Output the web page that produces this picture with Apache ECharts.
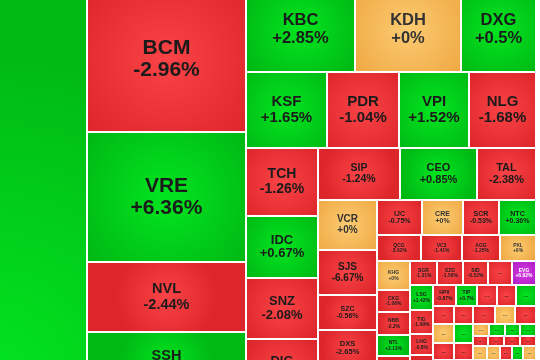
<!DOCTYPE html>
<html>
<head>
<meta charset="utf-8">
<script src="https://cdn.jsdelivr.net/npm/echarts@6/dist/echarts.min.js"></script>
<style>
html,body{margin:0;padding:0;background:#ffffff;}
#chart{width:540px;height:360px;}
</style>
</head>
<body>
<div id="chart"></div>
<script>
// ---- data (market-cap weights, % change from labels) ----
const tickers = ['VHM','BCM','VRE','NVL','SSH','KBC','KDH','DXG','KSF','PDR','VPI','NLG',
  'TCH','IDC','SNZ','DIG','SIP','CEO','TAL','VCR','SJS','SZC','DXS','IJC','CRE','SCR','NTC',
  'QCG','VC3','AGG','PXL','KHG','CKG','NBB','NTL','SGR','SZG','SID','EVG','LSG','TIG','LHG','HPX','TIP'];
const changes = [1.2,-2.96,6.36,-2.44,1.8,2.85,0,0.5,1.65,-1.04,1.52,-1.68,
  -1.26,0.67,-2.08,-1.1,-1.24,0.85,-2.38,0,-6.67,-0.56,-2.65,-0.75,0,-0.53,0.36,
  -3.62,-1.41,-1.25,0,0,-1.06,-2.2,2.11,-1.31,-1.56,-0.52,6.92,1.42,-1.09,-0.8,-0.87,0.7];
const caps = [142551,23055,20670,11130,10176,9265,9010,6375,6156,5472,5320,5092,
  4896,4464,4392,4176,4264,4004,3068,2950,2655,2065,2124,1575,1435,1260,1295,
  1144,1066,988,936,957,726,759,693,648,624,600,576,575,552,483,483,441];

// small unlabeled ("...") cells
const minorKeys  = ['hA','hB','hC','hD','hE','f1','g1','g2','g3','H1','H2','H3','H4','H5',
  'X1','X2','Y1','Y2','hF','r1a','r1b','r1c','r1d','r2a','r2b','r2c','r2d','r3a','r3b','r3c','r3d','r3e','hG'];
const minorMoves = ['up','down','down','down','down','down','down','down','up','down','down','down','ref','down',
  'ref','up','down','down','down','ref','up','up','up','down','down','down','down','ref','ref','down','up','ref','down'];
const minorCaps  = [2226,936,2596,1782,1265,576,420,399,420,378,342,396,360,378,
  399,361,357,323,2000,192,192,180,192,150,160,160,160,196,182,168,154,182,3150];

// grouping of the cells (nesting only)
const layoutTree = [
  'VHM',
  [
    [[['BCM', ['VRE', 'NVL']], 'SSH'], 'hA'],
    [
      ['KBC', 'KDH', 'DXG'],
      [
        ['KSF', 'PDR', 'VPI', 'NLG'],
        [
          [['TCH', ['IDC', ['SNZ', 'DIG']]], 'hB'],
          [
            ['SIP', 'CEO', 'TAL'],
            [
              ['VCR', ['SJS', ['SZC', ['DXS', 'hC']]]],
              [
                ['IJC', 'CRE', 'SCR', 'NTC'],
                [
                  ['QCG', 'VC3', 'AGG', 'PXL'],
                  [
                    ['KHG', ['CKG', ['NBB', ['NTL', 'hD']]]],
                    [
                      ['SGR', 'SZG', 'SID', 'f1', 'EVG'],
                      [
                        ['LSG', ['TIG', ['LHG', 'hE']]],
                        [
                          ['HPX', 'TIP', 'g1', 'g2', 'g3'],
                          [
                            ['H1', 'H2', 'H3', 'H4', 'H5'],
                            [
                              [['X1', 'X2'], [['Y1', 'Y2'], 'hF']],
                              [['r1a','r1b','r1c','r1d'], [['r2a','r2b','r2c','r2d'], [['r3a','r3b','r3c','r3d','r3e'], 'hG']]]
                            ]
                          ]
                        ]
                      ]
                    ]
                  ]
                ]
              ]
            ]
          ]
        ]
      ]
    ]
  ]
];

// ---- styles ----
const labelSize = {VHM:28,BCM:21,VRE:21,NVL:14.5,SSH:14.5,KBC:16.5,KDH:16.5,DXG:16.5,
  KSF:15,PDR:15,VPI:15,NLG:15,TCH:14,IDC:13,SNZ:13,DIG:13,SIP:10.5,CEO:11,TAL:11,
  VCR:10,SJS:10,SZC:7,DXS:7.5,IJC:7,CRE:7,SCR:7,NTC:7};
const FILLS = {up:['#02e520','#00ba14'], down:['#f94346','#dc2629'], ref:['#fccb72','#f0ab46'], ceil:['#d43de2','#ad1ac2']};
const INK = {up:'#1b1b1b', down:'#1b1b1b', ref:'#333333', ceil:'#ffffff'};

function moveOf(c){ return c >= 6.9 ? 'ceil' : c > 0 ? 'up' : c < 0 ? 'down' : 'ref'; }
function fmt(c){ return (c < 0 ? '' : '+') + c + '%'; }

let gid = 0;
function build(node){
  if (typeof node !== 'string') {
    return { name: 'g' + (gid++), children: node.map(build) };
  }
  let item, move;
  const i = tickers.indexOf(node);
  if (i >= 0) {
    move = moveOf(changes[i]);
    item = { name: tickers[i], value: caps[i], chg: changes[i] };
  } else {
    const j = minorKeys.indexOf(node);
    move = minorMoves[j];
    item = { name: '...', value: minorCaps[j], chg: null };
  }
  const fs = labelSize[item.name] || 5;
  const f = FILLS[move];
  const big = node === 'VHM';
  item.itemStyle = {
    color: { type: 'radial', x: big ? 0.7 : 0.5, y: big ? 0.95 : 0.5, r: big ? 1.0 : 0.75,
      colorStops: [{offset: 0, color: f[0]}, {offset: 1, color: f[1]}] },
    borderWidth: 1, borderColor: '#ffffff'
  };
  item.label = { fontSize: fs, lineHeight: Math.round(fs * 1.06 * 10) / 10, color: INK[move] };
  return item;
}

const chart = echarts.init(document.getElementById('chart'), null, {renderer: 'canvas'});
chart.setOption({
  backgroundColor: '#ffffff',
  animation: false,
  series: [{
    type: 'treemap',
    left: -250, top: -13, width: 786, height: 423,
    roam: false, nodeClick: false, silent: true,
    sort: false, squareRatio: 1, visibleMin: 0,
    breadcrumb: { show: false },
    itemStyle: { borderWidth: 0, gapWidth: 0, borderColor: '#ffffff' },
    upperLabel: { show: false },
    label: {
      show: true, position: 'inside', align: 'center', verticalAlign: 'middle',
      padding: 0, fontFamily: 'Liberation Sans, Arial, sans-serif', fontWeight: 'bold',
      formatter: function (p) {
        return p.data.chg == null ? p.name : p.name + '\n' + fmt(p.data.chg);
      }
    },
    emphasis: { disabled: true },
    data: layoutTree.map(build)
  }]
});
</script>
</body>
</html>
